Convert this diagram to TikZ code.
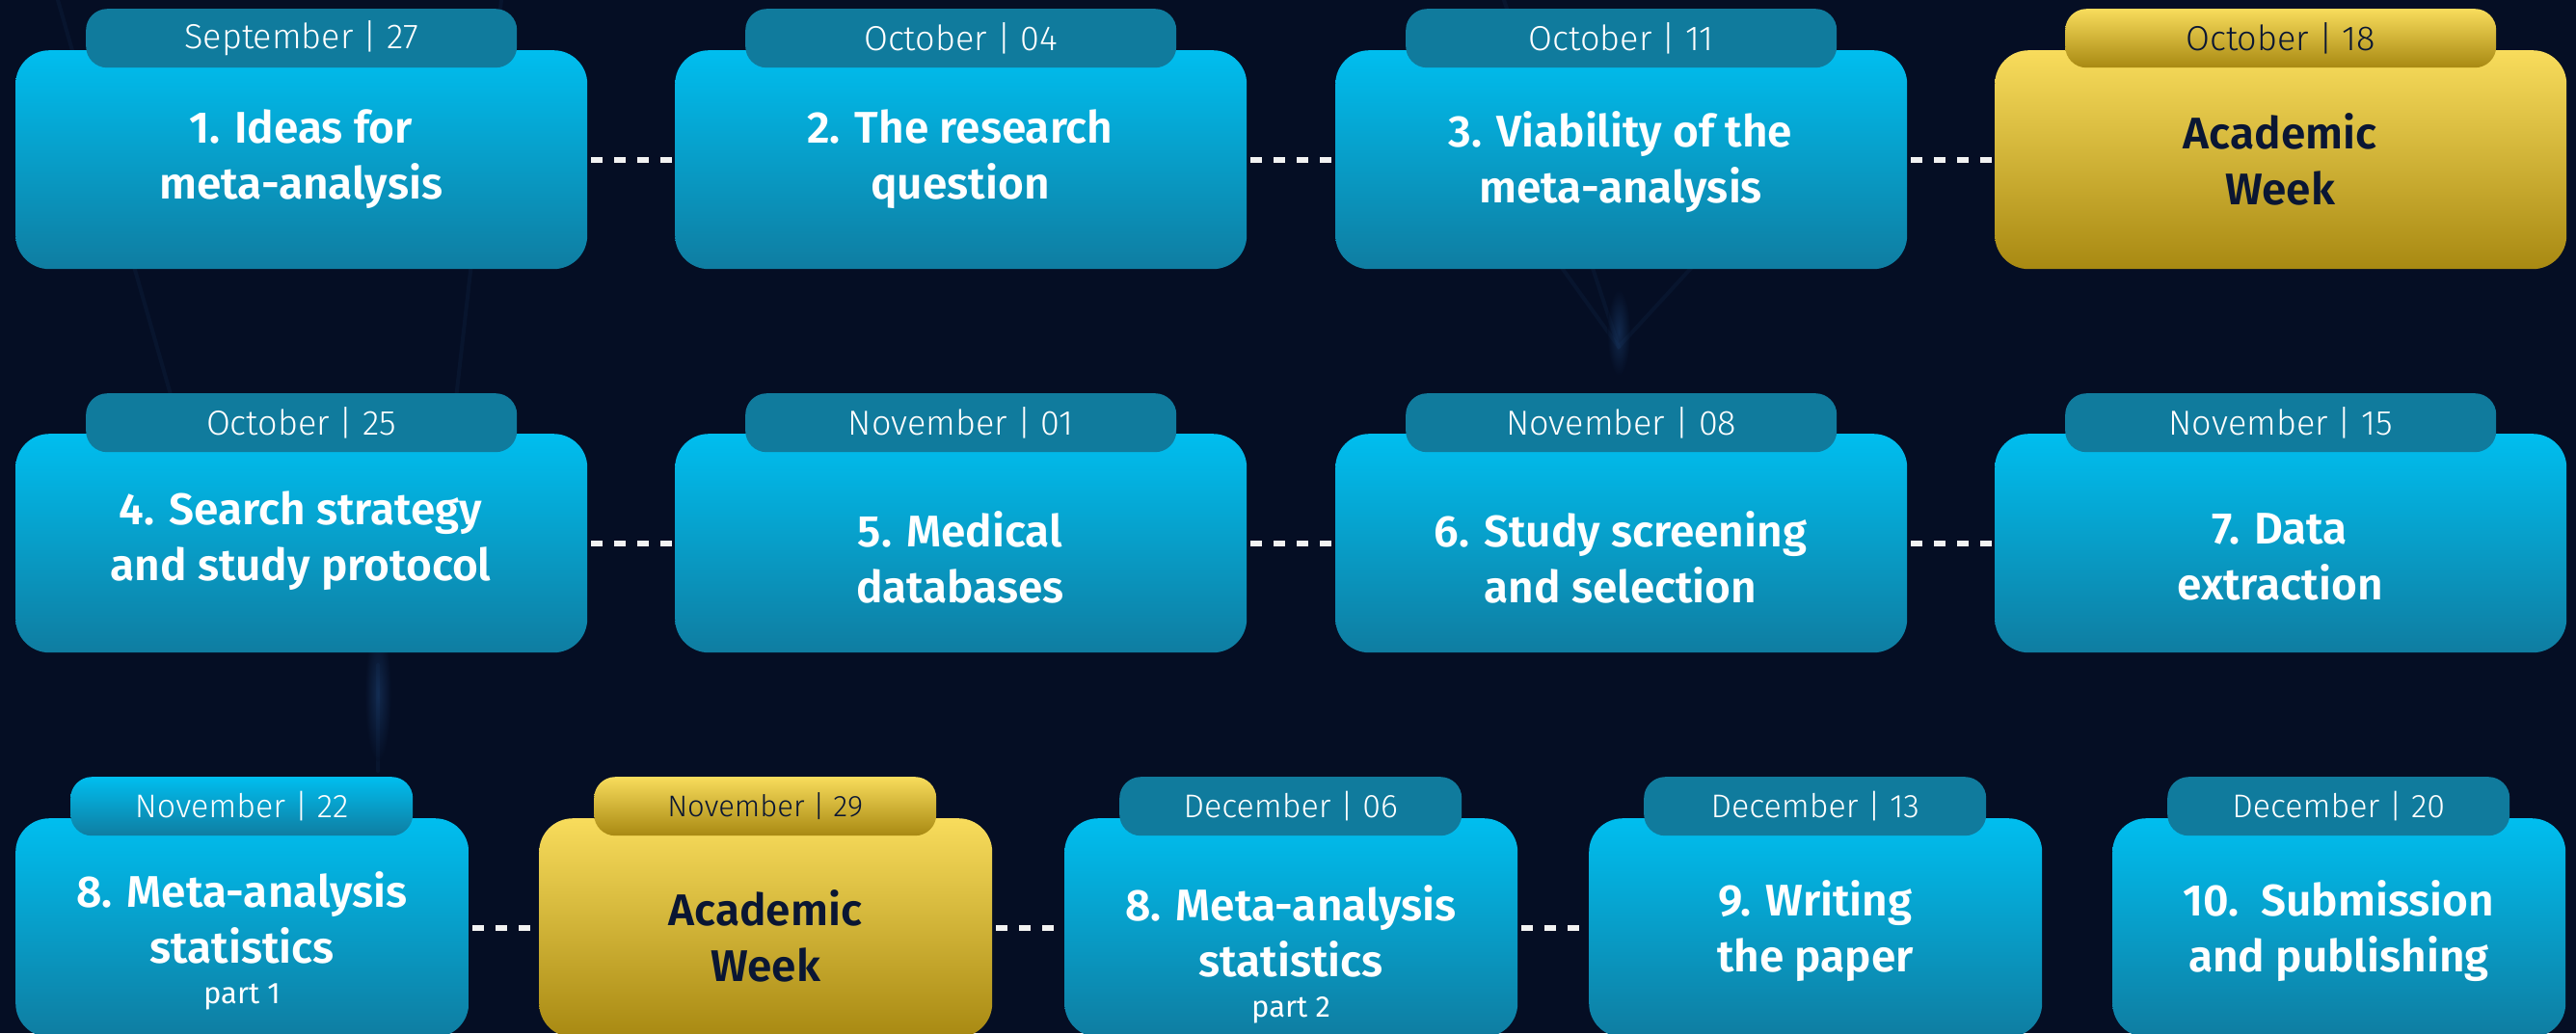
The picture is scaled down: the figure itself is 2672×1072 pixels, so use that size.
\documentclass[tikz,border=0pt]{standalone}
\usepackage{fontspec}
\setmainfont{Fira Sans}
\newfontfamily\titlefamily{Fira Sans SemiBold}
\newfontfamily\datefamily{Fira Sans Light}
\definecolor{bgnavy}{HTML}{050E24}
\definecolor{cyanTop}{HTML}{00BEEF}
\definecolor{cyanBot}{HTML}{0F7DA1}
\definecolor{tabBlue}{HTML}{107B9D}
\definecolor{yelTop}{HTML}{F8DC5C}
\definecolor{yelBot}{HTML}{A88912}
\definecolor{darkText}{HTML}{0A1633}
\definecolor{dashWhite}{HTML}{F2F2F2}
\definecolor{streak}{HTML}{2A5C9A}
\begin{document}
\begin{tikzpicture}[x=1pt,y=-1pt,
  bigbox/.style={anchor=north west, rounded corners=35pt, inner sep=0pt, draw=none,
     minimum width=593pt, minimum height=227pt},
  smallbox/.style={anchor=north west, rounded corners=35pt, inner sep=0pt, draw=none,
     minimum width=470pt, minimum height=227pt},
  bluefill/.style={top color=cyanTop, bottom color=cyanBot},
  yelfill/.style={top color=yelTop, bottom color=yelBot},
  bigtab/.style={anchor=north west, rounded corners=22pt, inner sep=0pt, draw=none,
     minimum width=447pt, minimum height=61pt, font=\datefamily\fontsize{36}{40}\selectfont},
  smalltab/.style={anchor=north west, rounded corners=22pt, inner sep=0pt, draw=none,
     minimum width=355pt, minimum height=61pt, font=\datefamily\fontsize{34}{40}\selectfont},
  tabsolid/.style={fill=tabBlue, text=white},
  tabgrad/.style={top color=cyanTop, bottom color=cyanBot, text=white},
  tabyel/.style={top color=yelTop, bottom color=yelBot, text=darkText},
  titletext/.style={align=center, inner sep=0pt, text=white,
     font=\titlefamily\fontsize{46}{58}\selectfont},
  titledark/.style={titletext, text=darkText},
  linker/.style={draw=dashWhite, line width=6pt, dash pattern=on 12pt off 12pt, dash phase=20pt}
]
\useasboundingbox (0,0) rectangle (2672,1072);
\fill[bgnavy] (0,0) rectangle (2672,1072);
% faint background light streaks
\begin{scope}[streak, line width=4pt, opacity=0.09, line cap=round]
  \draw (60,0) -- (180,420);
  \draw (520,0) -- (470,440);
  \draw (1600,250) -- (1679,360) -- (1780,250);
  \draw (1560,0) -- (1679,360);
  \draw (392,690) -- (392,800);
\end{scope}
\shade[inner color=streak, outer color=bgnavy, opacity=0.35] (392,720) ellipse (14pt and 70pt);
\shade[inner color=streak, outer color=bgnavy, opacity=0.35] (1679,345) ellipse (12pt and 45pt);

% ---------- Row 1 ----------
\node[bigbox, bluefill] (b1) at (16,52) {};
\node[bigbox, bluefill] (b2) at (700,52) {};
\node[bigbox, bluefill] (b3) at (1385,52) {};
\node[bigbox, yelfill]  (b4) at (2069,52) {};
\node[bigtab, tabsolid] (t1) at (89,9) {September | 27};
\node[bigtab, tabsolid] (t2) at (773,9) {October | 04};
\node[bigtab, tabsolid] (t3) at (1458,9) {October | 11};
\node[bigtab, tabyel]   (t4) at (2142,9) {October | 18};
\node[titletext] (l1) at (312,165) {1. Ideas for\\meta-analysis};
\node[titletext] (l2) at (996,165) {2. The research\\question};
\node[titletext] (l3) at (1681,168) {3. Viability of the\\meta-analysis};
\node[titledark] (l4) at (2365,165) {Academic\\Week};
\draw[linker] (b1.east) -- (b2.west);
\draw[linker] (b2.east) -- (b3.west);
\draw[linker] (b3.east) -- (b4.west);

% ---------- Row 2 ----------
\node[bigbox, bluefill] (b5) at (16,450) {};
\node[bigbox, bluefill] (b6) at (700,450) {};
\node[bigbox, bluefill] (b7) at (1385,450) {};
\node[bigbox, bluefill] (b8) at (2069,450) {};
\node[bigtab, tabsolid] (t5) at (89,408) {October | 25};
\node[bigtab, tabsolid] (t6) at (773,408) {November | 01};
\node[bigtab, tabsolid] (t7) at (1458,408) {November | 08};
\node[bigtab, tabsolid] (t8) at (2142,408) {November | 15};
\node[titletext] (l5) at (312,561) {4. Search strategy\\and study protocol};
\node[titletext] (l6) at (996,578) {5. Medical\\databases};
\node[titletext] (l7) at (1681,578) {6. Study screening\\and selection};
\node[titletext] (l8) at (2365,578) {7. Data\\extraction};
\draw[linker] (b5.east) -- (b6.west);
\draw[linker] (b6.east) -- (b7.west);
\draw[linker] (b7.east) -- (b8.west);

% ---------- Row 3 ----------
\node[smallbox, bluefill] (b9)  at (16,849) {};
\node[smallbox, yelfill]  (b10) at (559,849) {};
\node[smallbox, bluefill] (b11) at (1104,849) {};
\node[smallbox, bluefill] (b12) at (1648,849) {};
\node[smallbox, bluefill] (b13) at (2191,849) {};
\node[smalltab, tabgrad]  (t9)  at (73,806) {November | 22};
\node[smalltab, tabyel, font=\datefamily\fontsize{31}{36}\selectfont] (t10) at (616,806) {November | 29};
\node[smalltab, tabsolid] (t11) at (1161,806) {December | 06};
\node[smalltab, tabsolid] (t12) at (1705,806) {December | 13};
\node[smalltab, tabsolid] (t13) at (2248,806) {December | 20};
\node[titletext] (l9)  at (251,976) {8. Meta-analysis\\statistics\\[-16pt]{\normalfont\fontsize{31}{36}\selectfont part 1}};
\node[titledark] (l10) at (794,971) {Academic\\Week};
\node[titletext] (l11) at (1339,990) {8. Meta-analysis\\statistics\\[-16pt]{\normalfont\fontsize{31}{36}\selectfont part 2}};
\node[titletext] (l12) at (1883,966) {9. Writing\\the paper};
\node[titletext] (l13) at (2426,966) {10.\ \ Submission\\and publishing};
\draw[linker] (b9.east) -- (b10.west);
\draw[linker] (b10.east) -- (b11.west);
\draw[linker] (b11.east) -- (b12.west);
\end{tikzpicture}
\end{document}
